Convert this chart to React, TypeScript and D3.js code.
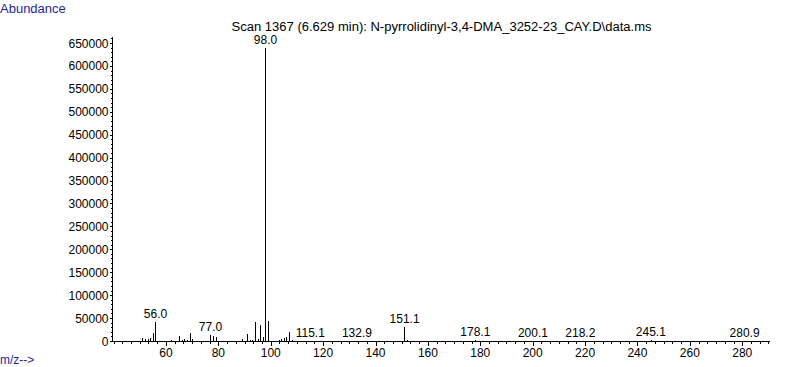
import React from "react";
import * as d3 from "d3";

const mzValues = [
  50, 51, 52, 53, 54, 55, 56, 57,
  61, 62, 63, 65, 66, 67, 68, 69, 70,
  74, 75, 76, 77, 78, 79, 80, 81, 82,
  88, 89, 90, 91, 92, 93, 94, 95, 96, 97, 98, 99, 100, 101, 102, 103, 104, 105, 106, 107, 108, 109,
  113, 114, 115, 116, 117, 118, 119, 120, 121,
  128, 129, 130, 131, 132, 133, 134, 135,
  143, 144, 146, 147, 151, 152, 153,
  162, 164,
  175, 177, 178, 179,
  200, 218,
  244, 245, 246, 247,
  281,
];
const abundances = [
  2000, 8500, 5500, 7000, 9000, 19000, 43500, 2500,
  2000, 3500, 3000, 13000, 5000, 6500, 4000, 19500, 6000,
  1500, 2500, 1500, 15000, 13000, 10000, 2000, 1500, 1500,
  2500, 6000, 3000, 18000, 4000, 4500, 44000, 6000, 36000, 11500, 641000, 46000, 3000, 1500, 2500, 4500, 7500, 9500, 10000, 22000, 4000, 1500,
  1000, 1500, 2500, 1500, 1500, 2000, 1000, 1500, 1000,
  1000, 1500, 1000, 1500, 1000, 2500, 1000, 1500,
  1000, 1500, 1500, 1000, 33000, 3500, 1000,
  1500, 1500,
  1000, 2000, 3600, 1000,
  1000, 1000,
  1500, 4000, 1500, 1000,
  1000,
];
const peakLabels = ["56.0", "77.0", "98.0", "115.1", "132.9", "151.1", "178.1", "200.1", "218.2", "245.1", "280.9"];
const peakLabelMz = [56, 77, 98, 115.1, 132.9, 151.1, 178.1, 200.1, 218.2, 245.1, 280.9];
const yTickValues = d3.range(0, 650001, 50000);
const yMinorValues = d3.range(0, 660001, 10000);
const xTickValues = d3.range(60, 281, 20);
const xMinorValues = d3.range(40, 290.5, 20 / 6);

const title = "Scan 1367 (6.629 min): N-pyrrolidinyl-3,4-DMA_3252-23_CAY.D\\data.ms";

const FONT = "'Liberation Sans', Arial, sans-serif";
const BLUE = "#1f1f9c";

export default function App() {
  const x = d3.scaleLinear().domain([39.4, 290.6]).range([112, 770]);
  const y = d3.scaleLinear().domain([0, 650000]).range([341, 43]);
  const axisX = 112.5;
  const axisY = 341.5;
  const yTop = 36.5;

  const peaks = mzValues.map((m, i) => ({ m, v: abundances[i] }));
  const labelData = peakLabels.map((t, i) => {
    const m = peakLabelMz[i];
    const near = peaks.filter((p) => Math.abs(p.m - m) <= 0.6);
    const v = near.length ? d3.max(near, (p) => p.v)! : 0;
    return { t, m, v };
  });

  return (
    <svg
      width={787}
      height={367}
      style={{ position: "absolute", left: 0, top: 0, background: "#fff" }}
      fontFamily={FONT}
    >
      <rect x={0} y={0} width={787} height={367} fill="#fff" />
      <text x={0} y={12.7} fontSize={13} fill={BLUE}>
        Abundance
      </text>
      <text x={0} y={363.5} fontSize={12} fill={BLUE}>
        m/z--&gt;
      </text>
      <text x={231.5} y={31} fontSize={12} fill="#000" textLength={420} lengthAdjust="spacingAndGlyphs">
        {title}
      </text>

      {/* y axis */}
      <line x1={axisX} x2={axisX} y1={yTop} y2={axisY} stroke="#000" shapeRendering="crispEdges" />
      {yMinorValues.map((v) => (
        <line
          key={"ym" + v}
          x1={axisX - 1.5}
          x2={axisX}
          y1={Math.round(y(v)) + 0.5}
          y2={Math.round(y(v)) + 0.5}
          stroke="#000"
          shapeRendering="crispEdges"
        />
      ))}
      {yTickValues.map((v) => (
        <g key={"yt" + v}>
          <line
            x1={axisX - 3}
            x2={axisX}
            y1={Math.round(y(v)) + 0.5}
            y2={Math.round(y(v)) + 0.5}
            stroke="#000"
            shapeRendering="crispEdges"
          />
          <text x={108.5} y={y(v) + 4.5} fontSize={12} textAnchor="end" fill="#000">
            {v}
          </text>
        </g>
      ))}

      {/* x axis */}
      <line x1={axisX} x2={770} y1={axisY} y2={axisY} stroke="#000" shapeRendering="crispEdges" />
      {xMinorValues.map((m, i) => (
        <line
          key={"xm" + i}
          x1={Math.round(x(m)) + 0.5}
          x2={Math.round(x(m)) + 0.5}
          y1={axisY}
          y2={axisY + 2}
          stroke="#000"
          shapeRendering="crispEdges"
        />
      ))}
      {xTickValues.map((m) => (
        <g key={"xt" + m}>
          <line
            x1={Math.round(x(m)) + 0.5}
            x2={Math.round(x(m)) + 0.5}
            y1={axisY}
            y2={axisY + 4}
            stroke="#000"
            shapeRendering="crispEdges"
          />
          <text x={x(m)} y={357} fontSize={12} textAnchor="middle" fill="#000">
            {m}
          </text>
        </g>
      ))}

      {/* peaks */}
      {peaks.map((p) => (
        <line
          key={"p" + p.m}
          x1={Math.round(x(p.m)) + 0.5}
          x2={Math.round(x(p.m)) + 0.5}
          y1={axisY}
          y2={Math.round(y(p.v)) + 0.5}
          stroke="#000"
          shapeRendering="crispEdges"
        />
      ))}

      {/* peak labels */}
      {labelData.map((l) => {
        const by = Math.min(y(l.v) - 3, 337);
        const w = l.t.length * 6.4;
        return (
          <g key={"l" + l.t}>
            <rect x={x(l.m) - w / 2} y={by - 9} width={w} height={10} fill="#fff" />
            <text x={x(l.m)} y={by} fontSize={12} textAnchor="middle" fill="#000">
              {l.t}
            </text>
          </g>
        );
      })}
    </svg>
  );
}
